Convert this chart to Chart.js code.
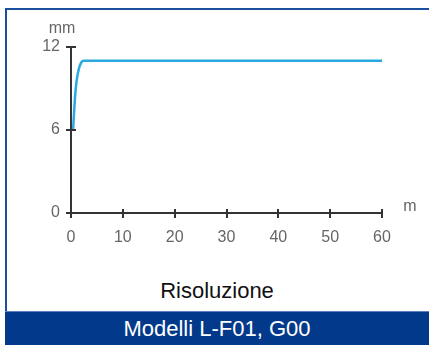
<!DOCTYPE html>
<html>
<head>
<meta charset="utf-8">
<script src="https://cdn.jsdelivr.net/npm/chart.js@4.4.1/dist/chart.umd.min.js"></script>
<style>
    html, body { margin: 0; padding: 0; background: #fff; }
    body { width: 429px; height: 345px; position: relative; overflow: hidden; font-family: Arial, "Liberation Sans", sans-serif; }
    #frame { position: absolute; left: 5px; top: 8px; width: 430px; height: 310px; border-left: 2px solid #1d4f9f; border-top: 2px solid #1d4f9f; box-sizing: border-box; }
    #caption { position: absolute; left: 5px; width: 424px; top: 278px; text-align: center; font-size: 22px; color: #111; }
    #banner { position: absolute; left: 5px; top: 311px; width: 424px; height: 34px; background: #03398b; border-top: 1px solid #5b7fc0; box-sizing: border-box; color: #fff; font-size: 22px; text-align: center; line-height: 34px; }
    #chart1 { position: absolute; left: 0; top: 0; }
</style>
</head>
<body>
<div id="frame"></div>
<div id="caption">Risoluzione</div>
<div id="banner">Modelli L-F01, G00</div>
<canvas id="chart1" width="429" height="345"></canvas>
<script>
// distance (m) vs resolution (mm)
const distances = [0.4, 0.6, 0.8, 1.1, 1.5, 2, 2.5, 60];
const resolution = [6, 7.3, 8.5, 9.6, 10.4, 10.9, 11, 11];
const xTicks = [0, 10, 20, 30, 40, 50, 60];
const yTicks = [0, 6, 12];

const tickFont = {family: 'Arial, "Liberation Sans"', size: 16};

// ticks that cross the axis lines, plus the unit labels
const axisExtras = {
    id: 'axisExtras',
    afterDraw(chart){
        const ctx = chart.ctx;
        const x = chart.scales.x, y = chart.scales.y;
        const area = chart.chartArea;
        ctx.save();
        ctx.strokeStyle = '#333';
        ctx.lineWidth = 2;
        ctx.beginPath();
        xTicks.forEach(v => {
            const px = Math.round(x.getPixelForValue(v));
            ctx.moveTo(px, area.bottom - 4);
            ctx.lineTo(px, area.bottom + 5);
        });
        yTicks.forEach(v => {
            const py = Math.round(y.getPixelForValue(v));
            ctx.moveTo(area.left - 5, py);
            ctx.lineTo(area.left + 5, py);
        });
        ctx.stroke();

        ctx.fillStyle = '#666';
        ctx.font = '16px Arial, "Liberation Sans"';
        ctx.textAlign = 'center';
        ctx.textBaseline = 'middle';
        ctx.fillText('mm', area.left - 9, area.top - 18);
        ctx.fillText('m', area.right + 28, area.bottom - 6);
        ctx.restore();
    }
};

new Chart('chart1', {
    type: 'scatter',
    data: {
        datasets: [{
            data: distances.map((d, i) => ({x: d, y: resolution[i]})),
            showLine: true,
            borderColor: '#29a9e0',
            borderWidth: 2.5,
            pointRadius: 0,
            cubicInterpolationMode: 'monotone'
        }]
    },
    options: {
        responsive: false,
        animation: false,
        layout: { padding: {left: 0, top: 47, right: 47, bottom: 100} },
        plugins: { legend: {display: false}, tooltip: {enabled: false} },
        scales: {
            x: {
                type: 'linear',
                min: 0, max: 60,
                afterBuildTicks: s => { s.ticks = xTicks.map(v => ({value: v})); },
                afterFit: s => { s.height = 32; },
                grid: {display: false, drawTicks: false},
                border: {display: true, color: '#333', width: 2},
                ticks: {color: '#666', font: tickFont, padding: 15, maxRotation: 0}
            },
            y: {
                min: 0, max: 12,
                afterBuildTicks: s => { s.ticks = yTicks.map(v => ({value: v})); },
                afterFit: s => { s.width = 71; },
                grid: {display: false, drawTicks: false},
                border: {display: true, color: '#333', width: 2},
                ticks: {color: '#666', font: tickFont, padding: 11}
            }
        }
    },
    plugins: [axisExtras]
});
</script>
</body>
</html>
